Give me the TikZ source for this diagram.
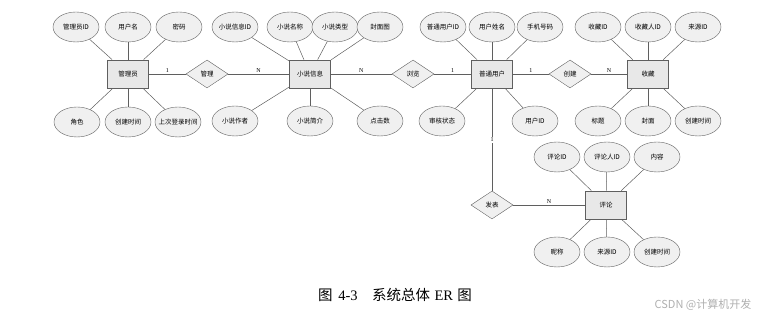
\documentclass[tikz,border=0pt]{standalone}
\usepackage{fontspec}
\setmainfont{Liberation Serif}
\newfontfamily\cjk{Noto Sans CJK SC}
\usepackage{tikz}
\usetikzlibrary{shapes.geometric, positioning}
\definecolor{edgegray}{RGB}{95, 95, 95}
\definecolor{boxgray}{RGB}{232, 232, 232}
\definecolor{attrgray}{RGB}{240, 240, 240}
\definecolor{markgray}{RGB}{175, 175, 175}

\begin{document}
\begin{tikzpicture}[
    x=1pt, y=1pt,
    on grid,
    entity/.style={rectangle, draw=edgegray, fill=boxgray, thick, minimum width=41pt, minimum height=28pt, inner sep=0pt, font=\cjk\fontsize{6.5}{7}\selectfont},
    attr/.style={ellipse, draw=edgegray, fill=attrgray, minimum width=46pt, minimum height=30pt, inner xsep=-8pt, inner ysep=0pt, font=\cjk\fontsize{6.5}{7}\selectfont},
    relation/.style={diamond, draw=edgegray, fill=attrgray, minimum width=42pt, minimum height=28pt, inner sep=0pt, font=\cjk\fontsize{6.5}{7}\selectfont},
    link/.style={draw=edgegray, line width=0.5pt},
    card/.style={font=\fontsize{6}{6}\selectfont, inner sep=1pt}
]
    \useasboundingbox (0,0) rectangle (773,320);

    % Entities and relations
    \node (adm) [entity] at (128,246) {管理员};
    \node (mgr) [relation, right=79pt of adm] {管理};
    \node (novel) [entity, right=103pt of mgr] {小说信息};
    \node (browse) [relation, right=103pt of novel] {浏览};
    \node (user) [entity, right=79pt of browse] {普通用户};
    \node (create) [relation, right=78pt of user] {创建};
    \node (fav) [entity, right=78pt of create] {收藏};
    \node (post) [relation, below=131pt of user] {发表};
    \node (cmt) [entity, right=114pt of post] {评论};

    % Admin attributes
    \node (admid) [attr, above left=47pt and 52pt of adm] {管理员ID};
    \node (admname) [attr, above=47pt of adm] {用户名};
    \node (admpwd) [attr, above right=47pt and 51pt of adm] {密码};
    \node (admrole) [attr, below left=48pt and 51pt of adm] {角色};
    \node (admtime) [attr, below=48pt of adm] {创建时间};
    \node (admlast) [attr, below right=48pt and 50pt of adm] {上次登录时间};

    % Novel attributes
    \node (novelid) [attr, above left=47pt and 75pt of novel] {小说信息ID};
    \node (novelname) [attr, above left=47pt and 20pt of novel] {小说名称};
    \node (noveltype) [attr, above right=47pt and 25pt of novel] {小说类型};
    \node (novelcover) [attr, above right=47pt and 70pt of novel] {封面图};
    \node (novelauthor) [attr, below left=47pt and 75pt of novel] {小说作者};
    \node (novelintro) [attr, below=47pt of novel] {小说简介};
    \node (novelclick) [attr, below right=47pt and 70pt of novel] {点击数};

    % User attributes
    \node (userid) [attr, above left=47pt and 49pt of user] {普通用户ID};
    \node (username) [attr, above=47pt of user] {用户姓名};
    \node (userphone) [attr, above right=47pt and 48pt of user] {手机号码};
    \node (userstate) [attr, below left=47pt and 50pt of user] {审核状态};
    \node (useruid) [attr, below right=47pt and 43pt of user] {用户ID};

    % Favourite attributes
    \node (favid) [attr, above left=47pt and 50pt of fav] {收藏ID};
    \node (favuser) [attr, above=47pt of fav] {收藏人ID};
    \node (favsrc) [attr, above right=47pt and 50pt of fav] {来源ID};
    \node (favtitle) [attr, below left=47pt and 50pt of fav] {标题};
    \node (favcover) [attr, below=47pt of fav] {封面};
    \node (favtime) [attr, below right=47pt and 50pt of fav] {创建时间};

    % Comment attributes
    \node (cmtid) [attr, above left=48pt and 49pt of cmt] {评论ID};
    \node (cmtuser) [attr, above right=48pt and 1pt of cmt] {评论人ID};
    \node (cmttext) [attr, above right=48pt and 51pt of cmt] {内容};
    \node (cmtnick) [attr, below left=47pt and 49pt of cmt] {昵称};
    \node (cmtsrc) [attr, below right=47pt and 1pt of cmt] {来源ID};
    \node (cmttime) [attr, below right=47pt and 51pt of cmt] {创建时间};

    % Caption and mark
    \node (caption) at (395,25) [font=\fontsize{14.5}{16}\selectfont] {{\cjk 图}\hspace{0.4em}4-3\hspace{1em}{\cjk 系统总体}\hspace{0.3em}ER\hspace{0.3em}{\cjk 图}};
    \node (mark) at (703,15) [text=markgray, font=\cjk\fontsize{11}{12}\selectfont] {CSDN @计算机开发};

    % Relations
    \draw [link] (adm) -- node[card, above] {1} (mgr);
    \draw [link] (mgr) -- node[card, above] {N} (novel);
    \draw [link] (novel) -- node[card, above] {N} (browse);
    \draw [link] (browse) -- node[card, above] {1} (user);
    \draw [link] (user) -- node[card, above] {1} (create);
    \draw [link] (create) -- node[card, above] {N} (fav);
    \draw [link] (user) -- node[card, fill=white] {1} (post);
    \draw [link] (post) -- node[card, above] {N} (cmt);

    % Attribute links
    \draw [link] (admid) -- (adm);
    \draw [link] (admname) -- (adm);
    \draw [link] (admpwd) -- (adm);
    \draw [link] (admrole) -- (adm);
    \draw [link] (admtime) -- (adm);
    \draw [link] (admlast) -- (adm);

    \draw [link] (novelid) -- (novel);
    \draw [link] (novelname) -- (novel);
    \draw [link] (noveltype) -- (novel);
    \draw [link] (novelcover) -- (novel);
    \draw [link] (novelauthor) -- (novel);
    \draw [link] (novelintro) -- (novel);
    \draw [link] (novelclick) -- (novel);

    \draw [link] (userid) -- (user);
    \draw [link] (username) -- (user);
    \draw [link] (userphone) -- (user);
    \draw [link] (userstate) -- (user);
    \draw [link] (useruid) -- (user);

    \draw [link] (favid) -- (fav);
    \draw [link] (favuser) -- (fav);
    \draw [link] (favsrc) -- (fav);
    \draw [link] (favtitle) -- (fav);
    \draw [link] (favcover) -- (fav);
    \draw [link] (favtime) -- (fav);

    \draw [link] (cmtid) -- (cmt);
    \draw [link] (cmtuser) -- (cmt);
    \draw [link] (cmttext) -- (cmt);
    \draw [link] (cmtnick) -- (cmt);
    \draw [link] (cmtsrc) -- (cmt);
    \draw [link] (cmttime) -- (cmt);
\end{tikzpicture}
\end{document}
